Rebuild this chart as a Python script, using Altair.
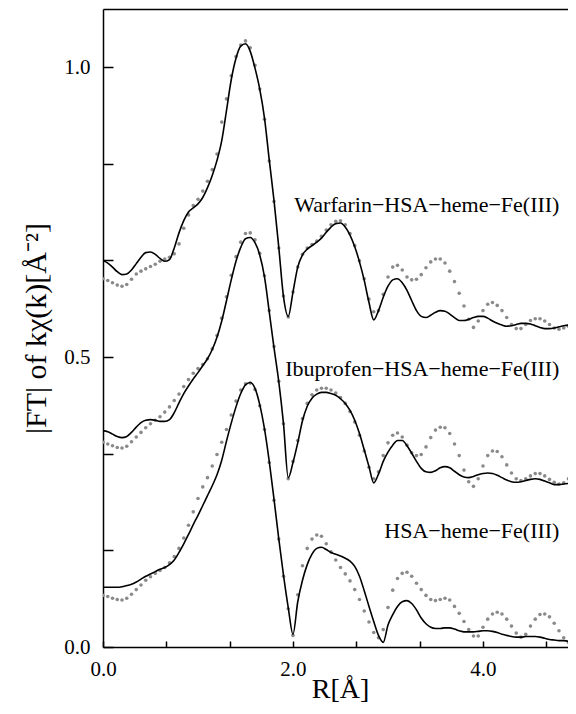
import altair as alt
import pandas as pd

# radial distance grid (Å)
R = [round(i * 0.05, 2) for i in range(101)]

warfarin_fit = [
    0.666, 0.662, 0.655, 0.647, 0.642, 0.643, 0.650, 0.661, 0.672, 0.680,
    0.681, 0.677, 0.670, 0.665, 0.668, 0.688, 0.714, 0.735, 0.750, 0.757,
    0.764, 0.775, 0.792, 0.813, 0.839, 0.873, 0.925, 0.978, 1.015, 1.036,
    1.040, 1.027, 0.998, 0.962, 0.912, 0.840, 0.770, 0.690, 0.604, 0.570,
    0.612, 0.655, 0.676, 0.686, 0.692, 0.698, 0.705, 0.715, 0.724, 0.730,
    0.731, 0.724, 0.710, 0.690, 0.664, 0.632, 0.594, 0.564, 0.580, 0.603,
    0.622, 0.633, 0.635, 0.628, 0.615, 0.597, 0.580, 0.570, 0.568, 0.572,
    0.577, 0.580, 0.579, 0.574, 0.568, 0.563, 0.563, 0.565, 0.568, 0.570,
    0.570, 0.567, 0.562, 0.558, 0.555, 0.553, 0.554, 0.556, 0.558, 0.558,
    0.557, 0.554, 0.551, 0.549, 0.549, 0.550, 0.552, 0.554, 0.555, 0.555,
    0.554,
]
warfarin_exp = [
    0.635, 0.632, 0.628, 0.624, 0.622, 0.625, 0.634, 0.643, 0.648, 0.652,
    0.656, 0.660, 0.665, 0.669, 0.672, 0.678, 0.695, 0.722, 0.745, 0.761,
    0.772, 0.786, 0.803, 0.823, 0.850, 0.905, 0.945, 0.985, 1.018, 1.038,
    1.045, 1.033, 1.003, 0.962, 0.910, 0.838, 0.768, 0.688, 0.605, 0.569,
    0.612, 0.655, 0.677, 0.688, 0.694, 0.700, 0.708, 0.719, 0.728, 0.734,
    0.735, 0.728, 0.713, 0.692, 0.666, 0.635, 0.600, 0.578, 0.580, 0.608,
    0.638, 0.655, 0.658, 0.650, 0.638, 0.633, 0.634, 0.642, 0.654, 0.664,
    0.669, 0.669, 0.662, 0.648, 0.630, 0.610, 0.588, 0.565, 0.551, 0.562,
    0.580, 0.591, 0.594, 0.589, 0.580, 0.568, 0.556, 0.549, 0.549, 0.556,
    0.563, 0.566, 0.566, 0.562, 0.556, 0.550, 0.548, 0.550, 0.553, 0.554,
    0.555,
]
ibuprofen_fit = [
    0.373, 0.371, 0.367, 0.363, 0.361, 0.363, 0.370, 0.379, 0.387, 0.391,
    0.392, 0.391, 0.389, 0.389, 0.392, 0.404, 0.421, 0.437, 0.450, 0.462,
    0.473, 0.485, 0.497, 0.513, 0.534, 0.562, 0.597, 0.633, 0.665, 0.689,
    0.704, 0.706, 0.697, 0.676, 0.638, 0.578, 0.516, 0.458, 0.385, 0.292,
    0.318, 0.352, 0.390, 0.415, 0.429, 0.436, 0.439, 0.439, 0.437, 0.434,
    0.428, 0.420, 0.408, 0.391, 0.368, 0.340, 0.311, 0.283, 0.298, 0.320,
    0.336, 0.348, 0.356, 0.356, 0.347, 0.334, 0.320, 0.308, 0.302, 0.301,
    0.304, 0.309, 0.311, 0.309, 0.303, 0.297, 0.293, 0.292, 0.294, 0.297,
    0.299, 0.300, 0.299, 0.296, 0.292, 0.288, 0.285, 0.284, 0.285, 0.287,
    0.289, 0.290, 0.289, 0.286, 0.283, 0.280, 0.280, 0.281, 0.282, 0.282,
    0.282,
]
ibuprofen_exp = [
    0.353, 0.350, 0.347, 0.344, 0.343, 0.346, 0.354, 0.362, 0.370, 0.378,
    0.385, 0.391, 0.397, 0.405, 0.414, 0.425, 0.436, 0.449, 0.461, 0.472,
    0.480, 0.487, 0.497, 0.514, 0.537, 0.567, 0.604, 0.641, 0.673, 0.698,
    0.713, 0.714, 0.702, 0.679, 0.640, 0.580, 0.518, 0.458, 0.385, 0.290,
    0.320, 0.356, 0.394, 0.420, 0.435, 0.443, 0.446, 0.446, 0.443, 0.438,
    0.430, 0.420, 0.406, 0.388, 0.365, 0.338, 0.310, 0.290, 0.302, 0.330,
    0.352, 0.365, 0.369, 0.362, 0.348, 0.335, 0.330, 0.332, 0.345, 0.361,
    0.374, 0.379, 0.378, 0.368, 0.350, 0.330, 0.305, 0.285, 0.277, 0.290,
    0.312, 0.330, 0.338, 0.337, 0.328, 0.314, 0.300, 0.290, 0.287, 0.290,
    0.295, 0.299, 0.299, 0.295, 0.289, 0.284, 0.281, 0.283, 0.290, 0.300,
    0.306,
]
hsa_fit = [
    0.103, 0.103, 0.103, 0.103, 0.104, 0.106, 0.108, 0.112, 0.117, 0.122,
    0.126, 0.130, 0.134, 0.137, 0.142, 0.150, 0.163, 0.178, 0.194, 0.211,
    0.227, 0.244, 0.261, 0.278, 0.297, 0.322, 0.355, 0.386, 0.414, 0.437,
    0.452, 0.456, 0.446, 0.418, 0.376, 0.320, 0.255, 0.187, 0.124, 0.068,
    0.022, 0.078, 0.115, 0.142, 0.160, 0.170, 0.172, 0.168, 0.163, 0.160,
    0.157, 0.153, 0.148, 0.139, 0.122, 0.097, 0.070, 0.044, 0.020, 0.008,
    0.038, 0.056, 0.070, 0.078, 0.080, 0.075, 0.064, 0.050, 0.040, 0.034,
    0.032, 0.032, 0.033, 0.033, 0.031, 0.028, 0.026, 0.026, 0.026, 0.027,
    0.028, 0.028, 0.027, 0.025, 0.022, 0.020, 0.018, 0.017, 0.017, 0.018,
    0.018, 0.018, 0.017, 0.015, 0.013, 0.012, 0.011, 0.011, 0.010, 0.010,
    0.010,
]
hsa_exp = [
    0.089, 0.087, 0.084, 0.082, 0.081, 0.084, 0.091, 0.099, 0.107, 0.115,
    0.121, 0.127, 0.132, 0.137, 0.145, 0.156, 0.170, 0.188, 0.210, 0.233,
    0.256, 0.276, 0.292, 0.312, 0.332, 0.353, 0.375, 0.400, 0.424, 0.443,
    0.454, 0.455, 0.444, 0.416, 0.375, 0.318, 0.253, 0.186, 0.122, 0.066,
    0.020, 0.090, 0.140, 0.170, 0.186, 0.193, 0.191, 0.178, 0.164, 0.150,
    0.137, 0.126, 0.114, 0.099, 0.082, 0.062, 0.043, 0.025, 0.016, 0.030,
    0.068, 0.098, 0.118, 0.127, 0.129, 0.122, 0.110, 0.099, 0.089, 0.082,
    0.080, 0.082, 0.084, 0.081, 0.070, 0.058, 0.044, 0.030, 0.019, 0.019,
    0.034, 0.048, 0.057, 0.060, 0.057, 0.048, 0.036, 0.024, 0.017, 0.022,
    0.036, 0.048, 0.056, 0.057, 0.052, 0.041, 0.028, 0.016, 0.008, 0.006,
    0.008,
]

labels = ["Warfarin\u2212HSA\u2212heme\u2212Fe(III)",
          "Ibuprofen\u2212HSA\u2212heme\u2212Fe(III)",
          "HSA\u2212heme\u2212Fe(III)"]
label_r = [4.805, 4.805, 4.805]
label_v = [0.750, 0.468, 0.188]

fit_rows, exp_rows = [], []
for name, fit, exp in [("W", warfarin_fit, warfarin_exp),
                       ("I", ibuprofen_fit, ibuprofen_exp),
                       ("H", hsa_fit, hsa_exp)]:
    for r, f, e in zip(R, fit, exp):
        fit_rows.append({"R": r, "v": f, "s": name})
        exp_rows.append({"R": r, "v": e, "s": name})
fit_df = pd.DataFrame(fit_rows)
exp_df = pd.DataFrame(exp_rows)
lab_df = pd.DataFrame({"R": label_r, "v": label_v, "t": labels})

FONT = "Liberation Serif"
xscale = alt.Scale(domain=[0, 4.895], nice=False, zero=False)
yscale = alt.Scale(domain=[0, 1.1], nice=False, zero=False)

x_axis = alt.Axis(
    values=[0, 2 / 3, 4 / 3, 2, 8 / 3, 10 / 3, 4, 14 / 3],
    labelExpr="abs(datum.value - round(datum.value / 2) * 2) < 0.01 ? format(datum.value, '.1f') : ''",
    tickSize=alt.ExprRef("-6"), tickWidth=1.5, tickColor="black",
    domain=True, domainColor="black", domainWidth=1.5,
    grid=False, labelFlush=False, labelOverlap=False,
    labelFont=FONT, labelFontSize=21, labelColor="black", labelPadding=17,
    title="R[Å]", titleFont=FONT, titleFontSize=28, titleFontWeight="normal",
    titleColor="black", titleBaseline="alphabetic", titleY=50, titleX=237,
)
y_axis = alt.Axis(
    values=[0, 1 / 6, 2 / 6, 3 / 6, 4 / 6, 5 / 6, 1.0],
    labelExpr="abs(datum.value * 2 - round(datum.value * 2)) < 0.01 ? format(datum.value, '.1f') : ''",
    tickSize=alt.ExprRef("-10"), tickWidth=1.5, tickColor="black",
    domain=True, domainColor="black", domainWidth=1.5,
    grid=False, labelFlush=False, labelOverlap=False,
    labelFont=FONT, labelFontSize=21, labelColor="black", labelPadding=23,
    title="|FT| of kχ(k)[Å⁻²]", titleFont=FONT, titleFontSize=30,
    titleFontWeight="normal", titleColor="black", titleAngle=270,
    titleBaseline="alphabetic", titleAlign="center", titleX=-58, titleY=319,
)
top_axis = alt.Axis(orient="top", labels=False, ticks=False, title=None,
                    domain=True, domainColor="black", domainWidth=1.5, grid=False)

dots = alt.Chart(exp_df).mark_circle(size=13, color="#8a8a8a", opacity=1, clip=True).encode(
    x=alt.X("R:Q", scale=xscale, axis=x_axis),
    y=alt.Y("v:Q", scale=yscale, axis=y_axis),
    detail="s:N",
)
lines = alt.Chart(fit_df).mark_line(color="black", strokeWidth=1.6, interpolate="monotone", clip=True).encode(
    x=alt.X("R:Q", scale=xscale, axis=top_axis),
    y=alt.Y("v:Q", scale=yscale),
    detail="s:N",
)
texts = alt.Chart(lab_df).mark_text(align="right", baseline="alphabetic", font=FONT,
                                    fontSize=22, color="black").encode(
    x=alt.X("R:Q", scale=xscale, axis=None),
    y=alt.Y("v:Q", scale=yscale),
    text="t:N",
)

chart = alt.layer(dots, lines, texts).resolve_axis(x="independent").properties(
    width=465, height=638,
    padding={"left": 95, "top": 1, "right": 0, "bottom": 56},
    autosize=alt.AutoSizeParams(type="none"),
    background="white",
).configure_view(stroke=None)

chart.save("out.html", embed_options={"renderer": "svg", "actions": False})
